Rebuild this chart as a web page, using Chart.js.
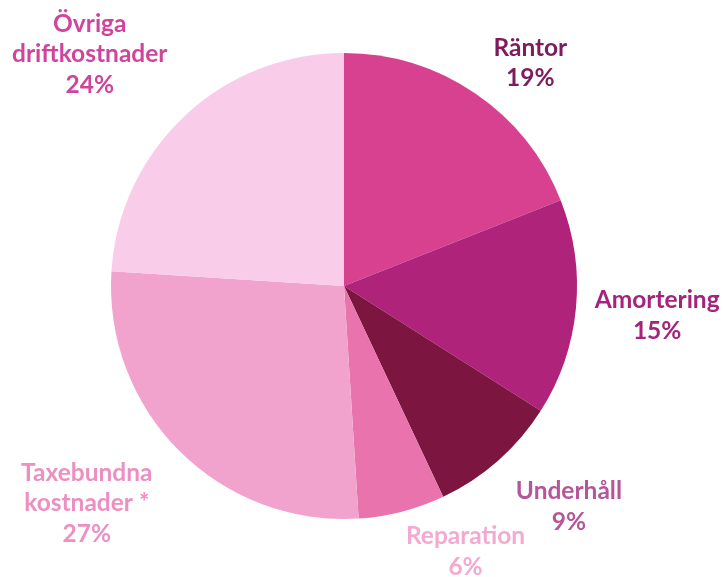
<!DOCTYPE html>
<html>
<head>
<meta charset="utf-8">
<script src="https://cdn.jsdelivr.net/npm/chart.js@4"></script>
<style>
  html, body { margin: 0; padding: 0; background: #fff; }
  #wrap { width: 725px; height: 577px; }
</style>
</head>
<body>
<div id="wrap"><canvas id="pie"></canvas></div>
<script>
// Data (clockwise from 12 o'clock)
const categories = ['Räntor', 'Amortering', 'Underhåll', 'Reparation', 'Taxebundna kostnader *', 'Övriga driftkostnader'];
const labelLines = [['Räntor'], ['Amortering'], ['Underhåll'], ['Reparation'], ['Taxebundna', 'kostnader *'], ['Övriga', 'driftkostnader']];
const shares = [19, 15, 9, 6, 27, 24];

const sliceColors = ['#d7418f', '#b0237a', '#7c1540', '#e873ad', '#f1a3cd', '#f9cdea'];
const labelColors = ['#7d1d5e', '#a5237c', '#b4579a', '#f2aad3', '#ec8fc2', '#d0449c'];
// distance of each label from pie centre (in radii) and a small nudge in px
const labelDist = [1.27, 1.35, 1.33, 1.2, 1.44, 1.5];
const labelNudge = [[20, 22], [0, 0], [20, -12], [52, -5], [-20, -20], [-15, 23]];

// Draws the slice labels outside the pie
const outsideLabels = {
    id: 'outsideLabels',
    afterDatasetsDraw(chart) {
        const ctx = chart.ctx;
        const meta = chart.getDatasetMeta(0);
        ctx.save();
        ctx.font = 'bold 24.5px Lato, "Open Sans", sans-serif';
        ctx.textAlign = 'center';
        ctx.textBaseline = 'middle';
        meta.data.forEach((arc, i) => {
            const mid = (arc.startAngle + arc.endAngle) / 2;
            const r = arc.outerRadius * labelDist[i];
            const cx = arc.x + Math.cos(mid) * r + labelNudge[i][0];
            const cy = arc.y + Math.sin(mid) * r + labelNudge[i][1];
            const lines = labelLines[i].concat([shares[i] + '%']);
            const lh = 30.5;
            const top = cy - (lines.length - 1) * lh / 2;
            ctx.fillStyle = labelColors[i];
            lines.forEach((t, k) => ctx.fillText(t, cx, top + k * lh));
        });
        ctx.restore();
    }
};

const ctx = document.getElementById('pie').getContext('2d');
new Chart(ctx, {
    type: 'pie',
    data: {
        labels: categories,
        datasets: [{
            data: shares,
            backgroundColor: sliceColors,
            borderWidth: 0
        }]
    },
    options: {
        responsive: true,
        maintainAspectRatio: false,
        animation: false,
        layout: { padding: { left: 111, right: 148, top: 53, bottom: 58 } },
        plugins: {
            legend: { display: false },
            tooltip: { enabled: false }
        }
    },
    plugins: [outsideLabels]
});
</script>
</body>
</html>
